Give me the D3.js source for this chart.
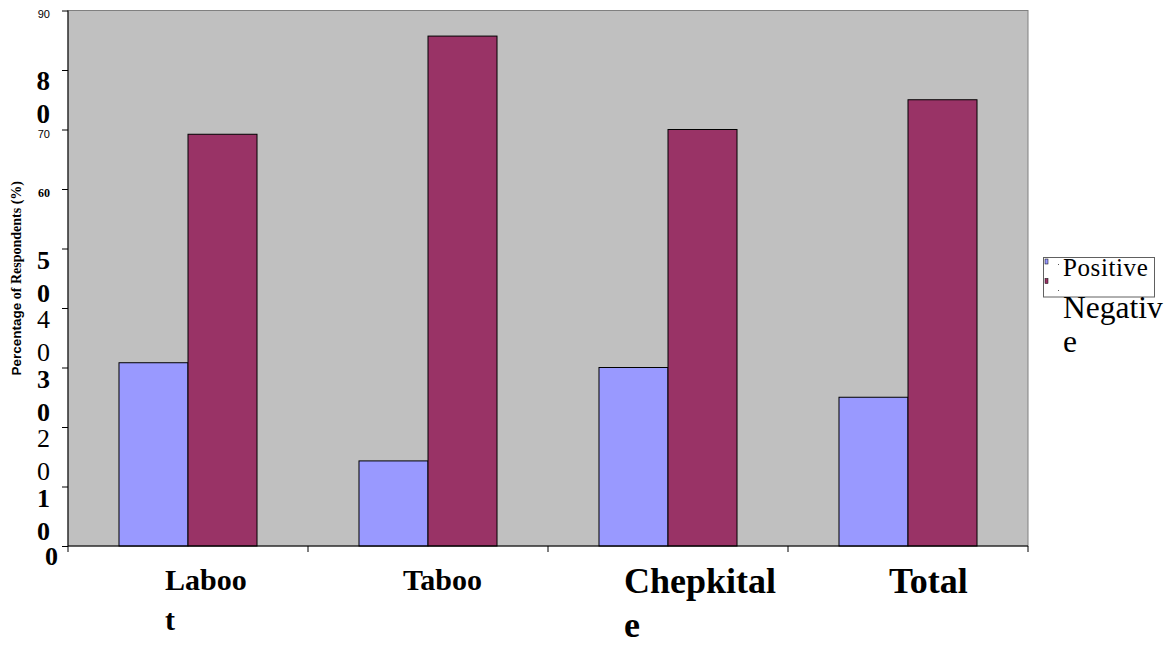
<!DOCTYPE html>
<html>
<head>
<meta charset="utf-8">
<script src="https://cdn.jsdelivr.net/npm/d3@7"></script>
<style>
  html, body { margin: 0; padding: 0; background: #fff; }
  svg { display: block; }
</style>
</head>
<body>
<svg id="chart" width="1173" height="645"></svg>
<script>
// Attitude toward the practice, by community
const categories = ["Laboot", "Taboo", "Chepkitale", "Total"];
const seriesNames = ["Positive", "Negative"];
const positiveValues = [30.8, 14.3, 30.0, 25.0];
const negativeValues = [69.2, 85.7, 70.0, 75.0];
const yTickValues = [0, 10, 20, 30, 40, 50, 60, 70, 80, 90];
const yTickLabels = ["0", "10", "20", "30", "40", "50", "60", "70", "80", "90"];
const categoryLabelLines = [["Laboo", "t"], ["Taboo"], ["Chepkital", "e"], ["Total"]];
const yAxisTitle = ["Percentage", " of Respondents (%)"];

const colors = { Positive: "#9999ff", Negative: "#993366" };
const serif = "'Liberation Serif', 'Times New Roman', serif";
const sans = "'Liberation Sans', Arial, sans-serif";

const svg = d3.select("#chart");
const plot = { left: 68, right: 1028, top: 10.5, bottom: 546 };

const x = d3.scaleBand().domain(categories).range([plot.left, plot.right]).padding(0);
const xInner = d3.scaleBand().domain(seriesNames).range([0, x.bandwidth()])
  .paddingInner(0).paddingOuter(0.739);
const y = d3.scaleLinear().domain([0, 90]).range([plot.bottom, plot.top]);

// plot area
svg.append("rect")
  .attr("x", plot.left).attr("y", plot.top)
  .attr("width", plot.right - plot.left).attr("height", plot.bottom - plot.top)
  .attr("fill", "#c0c0c0").attr("stroke", "#808080").attr("stroke-width", 1);

// bars
const rows = categories.map((c, i) => ({ cat: c, Positive: positiveValues[i], Negative: negativeValues[i] }));
const groups = svg.append("g").selectAll("g").data(rows).join("g")
  .attr("transform", d => `translate(${x(d.cat)},0)`);
groups.selectAll("rect")
  .data(d => seriesNames.map(s => ({ s, v: d[s] })))
  .join("rect")
  .attr("x", d => xInner(d.s))
  .attr("width", xInner.bandwidth())
  .attr("y", d => y(d.v))
  .attr("height", d => y(0) - y(d.v))
  .attr("fill", d => colors[d.s])
  .attr("stroke", "#000").attr("stroke-width", 1);

// y axis line and ticks
const yAxis = svg.append("g").attr("transform", `translate(${plot.left},0)`)
  .call(d3.axisLeft(y).tickValues(yTickValues).tickSize(6).tickFormat(""));
yAxis.select(".domain").attr("stroke", "#000").attr("d", `M0,${plot.top}V${plot.bottom}`);
yAxis.selectAll(".tick line").attr("stroke", "#000");

// x axis line and ticks at category boundaries
const xAxisG = svg.append("g");
xAxisG.append("line")
  .attr("x1", plot.left).attr("x2", plot.right)
  .attr("y1", plot.bottom).attr("y2", plot.bottom)
  .attr("stroke", "#000");
const boundaries = categories.map(c => x(c)).concat([x(categories[categories.length - 1]) + x.bandwidth()]);
xAxisG.selectAll("line.t").data(boundaries).join("line").attr("class", "t")
  .attr("x1", d => d).attr("x2", d => d)
  .attr("y1", plot.bottom).attr("y2", plot.bottom + 6)
  .attr("stroke", "#000");

// y tick labels: mixed styles, large ones wrap digit by digit
const tickStyle = {
  0:  { kind: "single", font: serif, size: 26, weight: "bold", dx: 58, dy: 19 },
  10: { kind: "wrap", font: serif, size: 26, weight: "bold" },
  20: { kind: "wrap", font: serif, size: 26, weight: "normal" },
  30: { kind: "wrap", font: serif, size: 26, weight: "bold" },
  40: { kind: "wrap", font: serif, size: 26, weight: "normal" },
  50: { kind: "wrap", font: serif, size: 26, weight: "bold" },
  60: { kind: "single", font: serif, size: 12, weight: "bold", dx: 50, dy: 8 },
  70: { kind: "single", font: sans, size: 11, weight: "normal", dx: 50, dy: 8 },
  80: { kind: "wrap", font: serif, size: 27, weight: "bold" },
  90: { kind: "single", font: sans, size: 11, weight: "normal", dx: 50, dy: 7.5 }
};
const yLabels = svg.append("g");
yTickValues.forEach((v, i) => {
  const st = tickStyle[v];
  const label = yTickLabels[i];
  const t = yLabels.append("text")
    .attr("text-anchor", "end")
    .attr("font-family", st.font).attr("font-size", st.size).attr("font-weight", st.weight)
    .attr("fill", "#000");
  if (st.kind === "single") {
    t.attr("x", st.dx).attr("y", y(v) + st.dy).text(label);
  } else {
    label.split("").forEach((ch, k) => {
      t.append("tspan").attr("x", 50).attr("y", y(v) + 20 + k * 33).text(ch);
    });
  }
});

// y axis title
const title = svg.append("text")
  .attr("transform", `translate(21,${(plot.top + plot.bottom) / 2}) rotate(-90)`)
  .attr("text-anchor", "middle")
  .attr("font-size", 13.5).attr("font-weight", "bold").attr("fill", "#000");
title.append("tspan").attr("font-family", sans).text(yAxisTitle[0]);
title.append("tspan").attr("font-family", serif).attr("font-size", 14).text(yAxisTitle[1]);

// category labels
const catStyle = [
  { size: 30, dx: -23, base: 590, lh: 40 },
  { size: 30, dx: -25, base: 590, lh: 40 },
  { size: 36, dx: -44, base: 593, lh: 44 },
  { size: 36, dx: -19, base: 593, lh: 44 }
];
categories.forEach((c, i) => {
  const st = catStyle[i];
  const t = svg.append("text")
    .attr("font-family", serif).attr("font-weight", "bold")
    .attr("font-size", st.size).attr("fill", "#000");
  categoryLabelLines[i].forEach((line, k) => {
    t.append("tspan")
      .attr("x", x(c) + x.bandwidth() / 2 + st.dx)
      .attr("y", st.base + k * st.lh)
      .text(line);
  });
});

// legend
const legend = svg.append("g");
legend.append("rect")
  .attr("x", 1043.5).attr("y", 257.5).attr("width", 111).attr("height", 39.5)
  .attr("fill", "#fff").attr("stroke", "#606060").attr("stroke-width", 1);
legend.selectAll("rect.key").data(seriesNames).join("rect").attr("class", "key")
  .attr("x", 1045).attr("y", (d, i) => 259 + i * 19.5)
  .attr("width", 3).attr("height", 5)
  .attr("fill", d => colors[d]).attr("stroke", "#000").attr("stroke-width", 0.5);
legend.selectAll("rect.dot").data(seriesNames).join("rect").attr("class", "dot")
  .attr("x", 1058).attr("y", (d, i) => 264 + i * 26)
  .attr("width", 1).attr("height", 1).attr("fill", "#555");
legend.append("text")
  .attr("x", 1063).attr("y", 276)
  .attr("font-family", serif).attr("font-size", 25).attr("letter-spacing", 0.6)
  .attr("fill", "#000")
  .text(seriesNames[0]);
const neg = legend.append("text")
  .attr("font-family", serif).attr("font-size", 31.5).attr("fill", "#000");
neg.append("tspan").attr("x", 1063).attr("y", 318).text("Negativ");
neg.append("tspan").attr("x", 1063).attr("y", 352).text("e");
</script>
</body>
</html>
